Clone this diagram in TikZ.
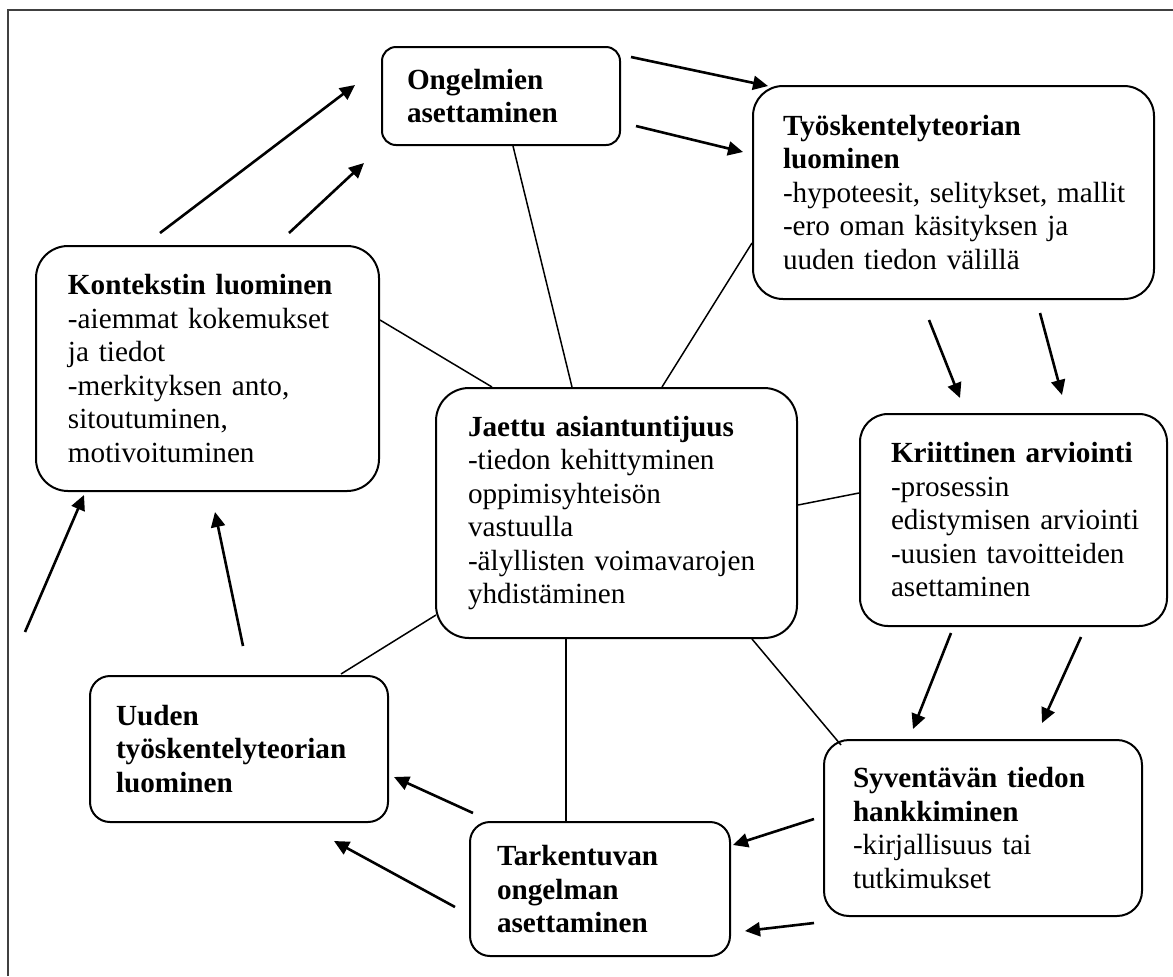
\documentclass[tikz,border=0pt]{standalone}
\usepackage{fontspec}
\setmainfont{Liberation Serif}
\usetikzlibrary{arrows.meta,calc}
\begin{document}
\hyphenpenalty=10000
\exhyphenpenalty=10000
\begin{tikzpicture}[x=0.5pt,y=-0.5pt,
  box/.style={draw, line width=1pt, inner sep=0pt, align=left, anchor=north west,
    font=\fontsize{14.6pt}{16.75pt}\selectfont},
  link/.style={line width=0.75pt},
  arr/.style={line width=1.3pt, -{Triangle[length=7.5pt,width=7pt]}},
  frameline/.style={line width=0.9pt, black!75}]
\useasboundingbox (0,0) rectangle (1173,976);
\draw[frameline] (8,976) -- (8,10) -- (1173,10);

% boxes
\node[box, rounded corners=7pt, minimum width=119pt, minimum height=49pt, text width=94pt] (ong) at (381,46)
  {\textbf{Ongelmien}\\\textbf{asettaminen}};
\node[box, rounded corners=15pt, minimum width=200.5pt, minimum height=106.5pt, text width=170.5pt] (tyo) at (752,85)
  {\textbf{Työskentelyteorian}\\\textbf{luominen}\\\mbox{-hypoteesit, selitykset, mallit}\\-ero~oman~käsityksen~ja\\uuden~tiedon~välillä};
\node[box, rounded corners=16pt, minimum width=171.5pt, minimum height=122.5pt, text width=139.5pt] (kon) at (35,245)
  {\textbf{Kontekstin~luominen}\\-aiemmat~kokemukset\\ja~tiedot\\-merkityksen~anto,\\sitoutuminen,\\motivoituminen};
\node[box, rounded corners=16.5pt, minimum width=180.5pt, minimum height=125pt, text width=148.5pt] (jae) at (435,387)
  {\textbf{Jaettu~asiantuntijuus}\\-tiedon~kehittyminen\\oppimisyhteisön\\vastuulla\\-älyllisten~voimavarojen\\yhdistäminen};
\node[box, rounded corners=14pt, minimum width=153.5pt, minimum height=106pt, text width=122.5pt] (kri) at (859,413)
  {\textbf{Kriittinen~arviointi}\\-prosessin\\edistymisen~arviointi\\-uusien~tavoitteiden\\asettaminen};
\node[box, rounded corners=12.5pt, minimum width=159pt, minimum height=88pt, text width=130pt] (syv) at (823,739)
  {\textbf{Syventävän~tiedon}\\\textbf{hankkiminen}\\-kirjallisuus~tai\\tutkimukset};
\node[box, rounded corners=10pt, minimum width=130pt, minimum height=67pt, text width=103pt] (tar) at (469,821)
  {\textbf{Tarkentuvan}\\\textbf{ongelman}\\\textbf{asettaminen}};
\node[box, rounded corners=10pt, minimum width=149pt, minimum height=73pt, text width=123pt] (uud) at (89,675)
  {\textbf{Uuden}\\\textbf{työskentelyteorian}\\\textbf{luominen}};

% plain links to the centre
\draw[link] ([shift={(0,75)}]kon.north east) -- ([shift={(57,0)}]jae.north west);
\draw[link] ([shift={(132,0)}]ong.south west) -- ([shift={(137,0)}]jae.north west);
\draw[link] ([shift={(0,158)}]tyo.north west) -- ([shift={(227,0)}]jae.north west);
\draw[link] ([shift={(0,118)}]jae.north east) -- ([shift={(0,80)}]kri.north west);
\draw[link] ([shift={(317,0)}]jae.south west) -- ([shift={(18,6)}]syv.north west);
\draw[link] ([shift={(131,0)}]jae.south west) -- ([shift={(97,0)}]tar.north west);
\draw[link] ([shift={(1,-24)}]jae.south west) -- ([shift={(252,-1)}]uud.north west);

% free arrows
\coordinate (a1s) at (160,233);  \coordinate (a1e) at (355,85);
\coordinate (a2s) at (289,233);  \coordinate (a2e) at (364,163);
\coordinate (a3s) at (631,57);   \coordinate (a3e) at (768,86);
\coordinate (a4s) at (636,126);  \coordinate (a4e) at (743,152);
\coordinate (a5s) at (929,320);  \coordinate (a5e) at (960,398);
\coordinate (a6s) at (1040,313); \coordinate (a6e) at (1062,395);
\coordinate (a7s) at (951,633);  \coordinate (a7e) at (913,729);
\coordinate (a8s) at (1081,637); \coordinate (a8e) at (1042,723);
\coordinate (a9s) at (814,819);  \coordinate (a9e) at (733,845);
\coordinate (a10s) at (814,923); \coordinate (a10e) at (745,931);
\coordinate (a11s) at (473,813); \coordinate (a11e) at (394,777);
\coordinate (a12s) at (455,907); \coordinate (a12e) at (334,841);
\coordinate (a13s) at (243,646); \coordinate (a13e) at (215,512);
\coordinate (a14s) at (25,632);  \coordinate (a14e) at (84,495);
\foreach \i in {1,...,14} { \draw[arr] (a\i s) -- (a\i e); }
\end{tikzpicture}
\end{document}
